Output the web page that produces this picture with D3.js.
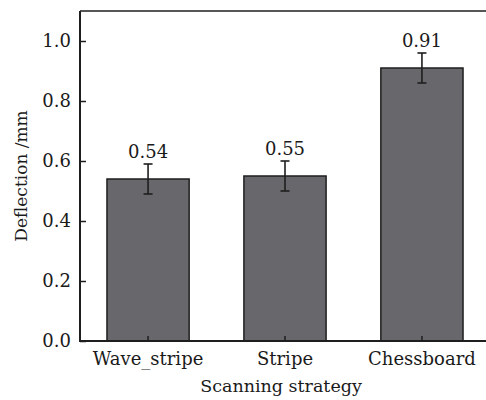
<!DOCTYPE html>
<html>
<head>
<meta charset="utf-8">
<script src="https://cdn.jsdelivr.net/npm/d3@7"></script>
<style>
  body { margin: 0; background: #fff; }
  text { font-family: "DejaVu Serif", serif; fill: #1a1a1a; }
</style>
</head>
<body>
<div id="chart"></div>
<script>
// Data
const categories = ["Wave_stripe", "Stripe", "Chessboard"];
const values = [0.54, 0.55, 0.91];
const errors = [0.05, 0.05, 0.05];
const yTicks = [0.0, 0.2, 0.4, 0.6, 0.8, 1.0];

// Layout
const width = 486;
const height = 400;
const plotLeft = 80, plotRight = 490, plotTop = 11, plotBottom = 341;
const fontSize = "18px";

const x = d3.scaleBand()
  .domain(categories)
  .range([plotLeft, plotRight])
  .paddingInner(0.4)
  .paddingOuter(0.197);

const y = d3.scaleLinear([0, 1.1], [plotBottom, plotTop]);

const svg = d3.select("#chart").append("svg")
  .attr("width", width)
  .attr("height", height);

// bars
svg.append("g")
  .selectAll("rect")
  .data(values)
  .join("rect")
  .attr("x", (d, i) => x(categories[i]))
  .attr("y", d => y(d))
  .attr("width", x.bandwidth())
  .attr("height", d => y(0) - y(d))
  .attr("fill", "#68686c")
  .attr("stroke", "#1e1e1e")
  .attr("stroke-width", 1.5);

// error bars
const cx = i => x(categories[i]) + x.bandwidth() / 2;
const err = svg.append("g")
  .attr("stroke", "#1e1e1e")
  .attr("stroke-width", 1.6);
values.forEach((v, i) => {
  const c = cx(i);
  err.append("line").attr("x1", c).attr("x2", c)
    .attr("y1", y(v + errors[i])).attr("y2", y(v - errors[i]));
  err.append("line").attr("x1", c - 4.5).attr("x2", c + 4.5)
    .attr("y1", y(v + errors[i])).attr("y2", y(v + errors[i]));
  err.append("line").attr("x1", c - 4.5).attr("x2", c + 4.5)
    .attr("y1", y(v - errors[i])).attr("y2", y(v - errors[i]));
});

// value labels
svg.append("g")
  .attr("text-anchor", "middle")
  .style("font-size", fontSize)
  .selectAll("text")
  .data(values)
  .join("text")
  .attr("x", (d, i) => cx(i))
  .attr("y", (d, i) => y(d + errors[i]) - 6)
  .text(d => d3.format(".2f")(d));

// frame top
svg.append("line")
  .attr("x1", plotLeft).attr("x2", width)
  .attr("y1", plotTop).attr("y2", plotTop)
  .attr("stroke", "#1e1e1e").attr("stroke-width", 1.5);

// y axis
const yAxis = svg.append("g")
  .attr("transform", `translate(${plotLeft},0)`)
  .call(d3.axisLeft(y).tickValues(yTicks).tickFormat(d3.format(".1f")).tickSizeInner(-6).tickSizeOuter(0).tickPadding(9));
yAxis.select(".domain").attr("stroke", "#1e1e1e").attr("stroke-width", 2)
  .attr("d", `M0,${plotTop}V${plotBottom}`);
yAxis.selectAll(".tick line").attr("stroke", "#1e1e1e").attr("stroke-width", 1.5);
yAxis.selectAll(".tick text").style("font-size", fontSize).attr("fill", null).attr("font-family", null);

// x axis
const xAxis = svg.append("g")
  .attr("transform", `translate(0,${plotBottom})`)
  .call(d3.axisBottom(x).tickSizeInner(-5).tickSizeOuter(0).tickPadding(8));
xAxis.select(".domain").attr("stroke", "#1e1e1e").attr("stroke-width", 2)
  .attr("d", `M${plotLeft - 1},0H${width}`);
xAxis.selectAll(".tick line").attr("stroke", "#1e1e1e").attr("stroke-width", 1.5);
xAxis.selectAll(".tick text").style("font-size", fontSize).attr("fill", null).attr("font-family", null)
  .attr("dy", "0.71em").attr("y", 11);

// axis titles
svg.append("text")
  .attr("x", 281)
  .attr("y", 392)
  .attr("text-anchor", "middle")
  .style("font-size", "17.5px")
  .text("Scanning strategy");

svg.append("text")
  .attr("transform", `translate(27,${(plotTop + plotBottom) / 2}) rotate(-90)`)
  .attr("text-anchor", "middle")
  .style("font-size", "17px")
  .text("Deflection /mm");
</script>
</body>
</html>
